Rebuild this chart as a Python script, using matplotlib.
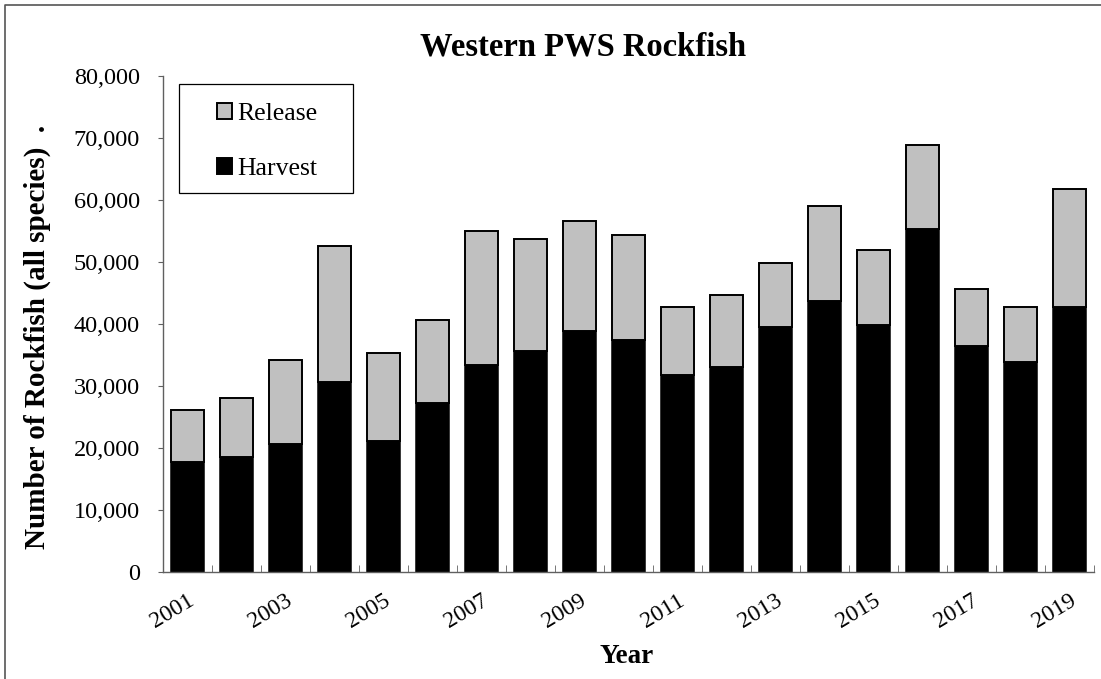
import matplotlib
matplotlib.use('Agg')
import matplotlib.pyplot as plt
from matplotlib.lines import Line2D
from matplotlib.patches import Rectangle, Patch
from matplotlib.ticker import FuncFormatter, FixedLocator
from matplotlib.transforms import ScaledTranslation

years = list(range(2001, 2020))
harvest = [17800, 18500, 20600, 30600, 21200, 27300, 33400, 35700, 38900, 37400,
           31800, 33000, 39500, 43700, 39900, 55400, 36400, 33900, 42800]
total = [26100, 28100, 34200, 52500, 35300, 40600, 55000, 53700, 56600, 54300,
         42800, 44600, 49800, 59000, 51900, 68800, 45700, 42800, 61700]
release = [t - h for t, h in zip(total, harvest)]

plt.rcParams['font.family'] = ['Liberation Serif', 'DejaVu Serif']

W, H = 1101, 679
fig = plt.figure(figsize=(W / 100, H / 100), dpi=100)
ax = fig.add_axes([163 / W, 1 - 572 / H, (1094 - 163) / W, (572 - 76) / H])

x = list(range(len(years)))
ax.bar(x, harvest, width=0.69, color='black', edgecolor='black', linewidth=1.1)
ax.bar(x, release, bottom=harvest, width=0.69, color='#c0c0c0',
       edgecolor='black', linewidth=1.4)

ax.set_xlim(-0.5, len(years) - 0.5)
ax.set_ylim(0, 80000)
ax.set_yticks(range(0, 80001, 10000))
ax.yaxis.set_major_formatter(FuncFormatter(lambda v, p: f'{int(v):,}'))

# year labels on every other bar, ticks on category boundaries
ax.set_xticks(x[::2])
ax.set_xticklabels([str(y) for y in years[::2]], rotation=31, ha='right',
                   rotation_mode='anchor', fontsize=17)
shift = ScaledTranslation(-7 / 100, 0, fig.dpi_scale_trans)
for lbl in ax.get_xticklabels():
    lbl.set_transform(lbl.get_transform() + shift)
ax.xaxis.set_minor_locator(FixedLocator([i - 0.5 for i in range(len(years) + 1)]))
ax.tick_params(axis='x', which='major', length=0, pad=13)
ax.tick_params(axis='x', which='minor', direction='in', length=5, color='#606060')
ax.tick_params(axis='y', direction='out', length=3.6, color='#606060', labelsize=17.5, pad=13)

for side in ['top', 'right']:
    ax.spines[side].set_visible(False)
for side in ['left', 'bottom']:
    ax.spines[side].set_color('#606060')
    ax.spines[side].set_linewidth(1.0)

ax.set_xlabel('Year', fontsize=19.5, fontweight='bold')
ax.xaxis.set_label_coords((627 - 163) / 931, (572 - 644) / 496)
fig.text(37 / W, 1 - 337 / H, 'Number of Rockfish (all species)  .', rotation=90,
         fontsize=21, fontweight='bold', ha='center', va='center')
fig.text(583 / W, 1 - 47 / H, 'Western PWS Rockfish',
         fontsize=23.5, fontweight='bold', ha='center', va='center')

# legend box
fig.patches.append(Rectangle((179 / W, 1 - 193 / H), (353 - 179) / W, (193 - 84) / H,
                             transform=fig.transFigure, fill=False,
                             edgecolor='black', linewidth=0.9))
handles = [Patch(facecolor='#c0c0c0', edgecolor='black', linewidth=1.4),
           Patch(facecolor='black', edgecolor='black', linewidth=1.4)]
fig.legend(handles, ['Release', 'Harvest'], loc='upper left',
           bbox_to_anchor=(217 / W, 1 - 103 / H), frameon=False, fontsize=18.5,
           handlelength=0.58, handleheight=0.58, handletextpad=0.2,
           labelspacing=1.27, borderaxespad=0, borderpad=0)

# outer border along top and left
fig.add_artist(Line2D([5 / W, 5 / W, 1.0], [0.0, 1 - 5 / H, 1 - 5 / H],
                      transform=fig.transFigure, color='#555555', linewidth=1.2))

fig.savefig('out.png', dpi=100)
